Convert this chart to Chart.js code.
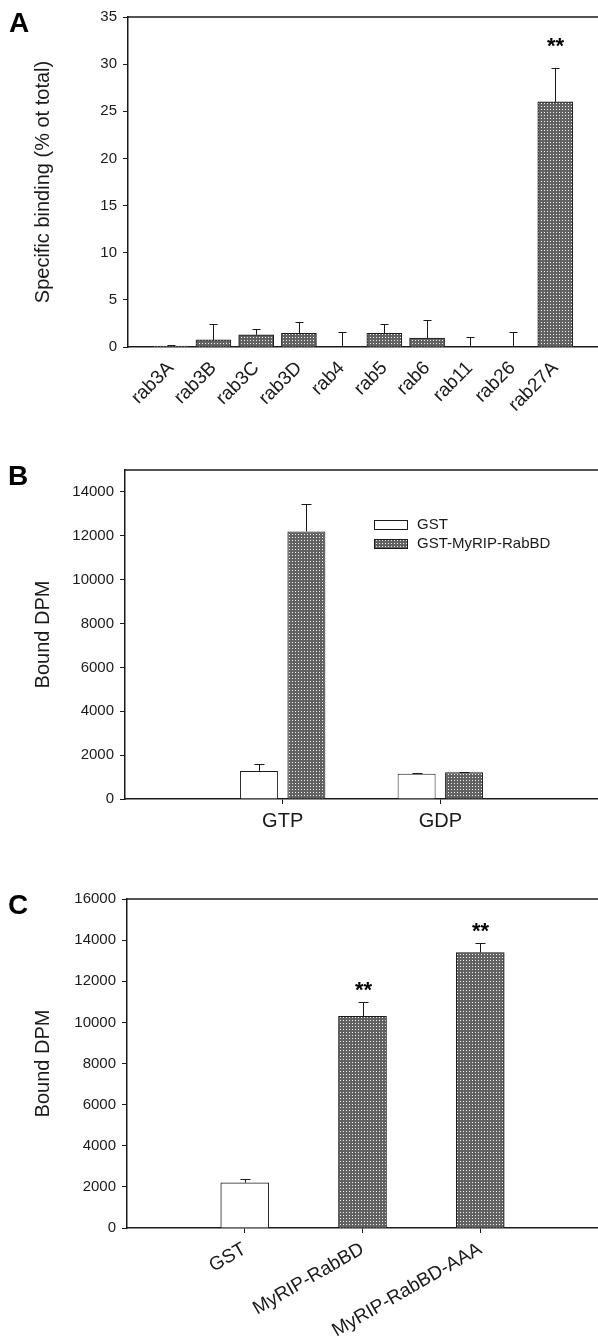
<!DOCTYPE html>
<html>
<head>
<meta charset="utf-8">
<script src="https://cdn.jsdelivr.net/npm/chart.js@4.4.1/dist/chart.umd.min.js"></script>
<style>
  body { margin: 0; background: #fff; width: 598px; height: 1343px; position: relative; overflow: hidden;
         font-family: 'Liberation Sans', Arial, Helvetica, sans-serif; }
  canvas { position: absolute; left: 0; }
  .letter { position: absolute; font-weight: bold; font-size: 28px; line-height: 1; color: #000; z-index: 2; }
</style>
</head>
<body>
<div class="letter" style="left:9px;top:9px">A</div>
<div class="letter" style="left:8px;top:462px">B</div>
<div class="letter" style="left:8px;top:891px">C</div>
<canvas id="chartA" width="598" height="440" style="top:0"></canvas>
<canvas id="chartB" width="598" height="420" style="top:440px"></canvas>
<canvas id="chartC" width="598" height="483" style="top:860px"></canvas>
<script>
// Panel A – specific binding of each rab
const rabLabels = ['rab3A', 'rab3B', 'rab3C', 'rab3D', 'rab4', 'rab5', 'rab6', 'rab11', 'rab26', 'rab27A'];
const rabBinding = [0.1, 0.75, 1.3, 1.45, 0, 1.45, 0.95, 0, 0, 26.0];
const rabBindingErr = [0.1, 1.65, 0.6, 1.2, 1.6, 0.95, 1.95, 1.05, 1.55, 3.55];
const rabStars = ['', '', '', '', '', '', '', '', '', '**'];

// Panel B – GTP vs GDP
const nucleotideLabels = ['GTP', 'GDP'];
const seriesNamesB = ['GST', 'GST-MyRIP-RabBD'];
const gstBound = [1280, 1150];
const gstBoundErr = [300, 25];
const rabbdBound = [12200, 1220];
const rabbdBoundErr = [1240, 30];

// Panel C – constructs
const constructLabels = ['GST', 'MyRIP-RabBD', 'MyRIP-RabBD-AAA'];
const constructBound = [2200, 10300, 13400];
const constructBoundErr = [180, 710, 480];
const constructStars = ['', '**', '**'];

const FAMILY = "'Liberation Sans', Arial, Helvetica, sans-serif";
const INK = '#1a1a1a';
Chart.defaults.font.family = FAMILY;
Chart.defaults.color = INK;
Chart.defaults.animation = false;

// dark grey dot screen like the printed bars
function dotPattern() {
    const tile = document.createElement('canvas');
    tile.width = 3;
    tile.height = 3;
    const g = tile.getContext('2d');
    g.fillStyle = '#626262';
    g.fillRect(0, 0, 3, 3);
    g.fillStyle = '#f2f2f2';
    g.fillRect(1, 1, 1, 1);
    return g.createPattern(tile, 'repeat');
}
const DOTS = dotPattern();

// empty slots at both ends so the categories sit where the original puts them
const pad = arr => [null, ...arr, null];
const padLabels = arr => ['', ...arr, ''];

const errorBars = {
    id: 'errorBars',
    afterDatasetsDraw(chart, _args, opts) {
        const { ctx } = chart;
        const y = chart.scales.y;
        ctx.save();
        ctx.strokeStyle = INK;
        ctx.lineWidth = 1;
        ctx.fillStyle = '#000';
        ctx.font = 'bold 22px ' + FAMILY;
        ctx.textAlign = 'center';
        chart.data.datasets.forEach((ds, i) => {
            if (!ds.errors) return;
            chart.getDatasetMeta(i).data.forEach((bar, j) => {
                const v = ds.data[j];
                if (v == null) return;
                const top = Math.round(y.getPixelForValue(v + ds.errors[j])) + 0.5;
                const x = Math.round(bar.x) + 0.5;
                ctx.beginPath();
                ctx.moveTo(x, bar.y);
                ctx.lineTo(x, top);
                ctx.moveTo(x - opts.cap, top);
                ctx.lineTo(x + opts.cap, top);
                ctx.stroke();
                const star = ds.stars && ds.stars[j];
                if (star) ctx.fillText(star, x, top - opts.starGap + 13);
            });
        });
        ctx.restore();
    }
};

const topFrame = {
    id: 'topFrame',
    afterDraw(chart) {
        const { ctx, chartArea: a } = chart;
        ctx.save();
        ctx.strokeStyle = INK;
        ctx.lineWidth = 1.5;
        ctx.beginPath();
        ctx.moveTo(a.left, a.top);
        ctx.lineTo(a.right, a.top);
        ctx.stroke();
        ctx.restore();
    }
};

const boxLegend = {
    id: 'boxLegend',
    afterDraw(chart, _args, opts) {
        const { ctx, chartArea: a } = chart;
        ctx.save();
        ctx.font = '15px ' + FAMILY;
        ctx.textBaseline = 'middle';
        ctx.strokeStyle = INK;
        ctx.lineWidth = 1;
        chart.data.datasets.forEach((ds, i) => {
            const x = a.left + opts.dx;
            const y = a.top + opts.dy + i * opts.row;
            ctx.fillStyle = ds.backgroundColor;
            ctx.fillRect(x, y, 34, 9);
            ctx.strokeRect(x + 0.5, y + 0.5, 33, 9);
            ctx.fillStyle = INK;
            ctx.fillText(ds.label, x + 43, y + 5);
        });
        ctx.restore();
    }
};

function yScale(max, step, title, width) {
    return {
        min: 0,
        max: max,
        border: { display: true, color: INK, width: 1.5 },
        grid: { drawOnChartArea: false, tickLength: 5, tickColor: INK },
        ticks: { padding: 6, font: { size: 15 }, color: INK, callback: v => String(v) },
        // labelled ticks every `step`, even when the axis top is not a multiple of it
        afterBuildTicks(s) {
            const ticks = [];
            for (let v = 0; v <= s.max; v += step) ticks.push({ value: v });
            s.ticks = ticks;
        },
        title: { display: true, text: title, font: { size: 20 }, color: INK, padding: { top: 31, bottom: 0 } },
        afterFit(s) { s.width = width; s.paddingTop = 0; s.paddingBottom = 0; }
    };
}

function xScale(labels, height, rotation, size, showTicks) {
    return {
        type: 'category',
        offset: false,
        border: { display: true, color: INK, width: 1.5 },
        grid: { offset: false, drawOnChartArea: false, tickLength: 5,
                tickColor: c => (showTicks && labels[c.index]) ? INK : 'rgba(0,0,0,0)' },
        ticks: { autoSkip: false, minRotation: rotation, maxRotation: rotation, padding: 5,
                 font: { size: size }, color: INK },
        afterFit(s) { s.height = height; s.paddingLeft = 0; s.paddingRight = 0; }
    };
}

// A
const labelsA = padLabels(rabLabels);
new Chart(document.getElementById('chartA'), {
    type: 'bar',
    data: {
        labels: labelsA,
        datasets: [{
            label: 'Specific binding',
            data: pad(rabBinding),
            errors: pad(rabBindingErr),
            stars: pad(rabStars),
            backgroundColor: DOTS,
            borderColor: INK,
            borderWidth: 1,
            barThickness: 35
        }]
    },
    options: {
        responsive: false,
        layout: { padding: { top: 17, left: 0, right: 0, bottom: 0 } },
        scales: {
            x: xScale(labelsA, 93, 45, 19, false),
            y: yScale(35, 5, 'Specific binding (% ot total)', 128)
        },
        plugins: {
            legend: { display: false },
            tooltip: { enabled: false },
            errorBars: { cap: 4, starGap: 29 }
        }
    },
    plugins: [errorBars, topFrame]
});

// B
const labelsB = padLabels(nucleotideLabels);
new Chart(document.getElementById('chartB'), {
    type: 'bar',
    data: {
        labels: labelsB,
        datasets: [{
            label: seriesNamesB[0],
            data: pad(gstBound),
            errors: pad(gstBoundErr),
            backgroundColor: '#fff',
            borderColor: INK,
            borderWidth: 1,
            categoryPercentage: 0.602,
            barPercentage: 0.8
        }, {
            label: seriesNamesB[1],
            data: pad(rabbdBound),
            errors: pad(rabbdBoundErr),
            backgroundColor: DOTS,
            borderColor: INK,
            borderWidth: 1,
            categoryPercentage: 0.602,
            barPercentage: 0.8
        }]
    },
    options: {
        responsive: false,
        layout: { padding: { top: 30, left: 0, right: 0, bottom: 0 } },
        scales: {
            x: xScale(labelsB, 61, 0, 20, true),
            y: yScale(15000, 2000, 'Bound DPM', 125)
        },
        plugins: {
            legend: { display: false },
            tooltip: { enabled: false },
            errorBars: { cap: 5, starGap: 18 },
            boxLegend: { dx: 249, dy: 50, row: 19 }
        }
    },
    plugins: [errorBars, topFrame, boxLegend]
});

// C
const labelsC = padLabels(constructLabels);
new Chart(document.getElementById('chartC'), {
    type: 'bar',
    data: {
        labels: labelsC,
        datasets: [{
            label: 'Bound DPM',
            data: pad(constructBound),
            errors: pad(constructBoundErr),
            stars: pad(constructStars),
            backgroundColor: pad(constructLabels.map(l => l === 'GST' ? '#fff' : DOTS)),
            borderColor: INK,
            borderWidth: 1,
            barThickness: 48
        }]
    },
    options: {
        responsive: false,
        layout: { padding: { top: 39, left: 0, right: 0, bottom: 0 } },
        scales: {
            x: xScale(labelsC, 115, 30, 19, true),
            y: yScale(16000, 2000, 'Bound DPM', 127)
        },
        plugins: {
            legend: { display: false },
            tooltip: { enabled: false },
            errorBars: { cap: 5, starGap: 19 }
        }
    },
    plugins: [errorBars, topFrame]
});
</script>
</body>
</html>
